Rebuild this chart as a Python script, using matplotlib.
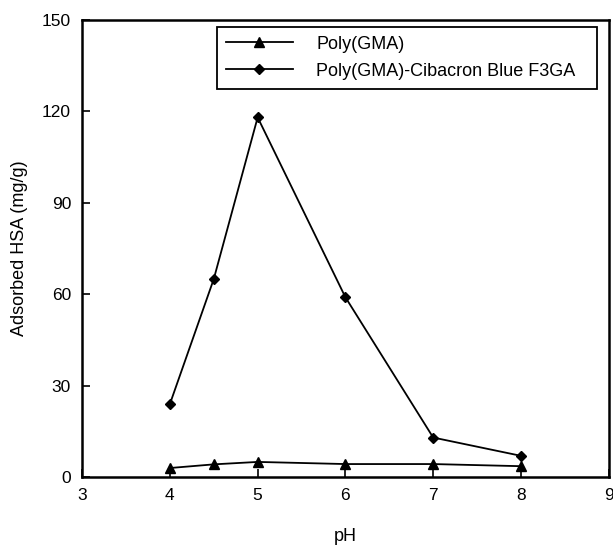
import matplotlib
matplotlib.use("Agg")
import matplotlib.pyplot as plt

plt.rcParams['font.family'] = ['Liberation Sans', 'DejaVu Sans']

ph = [4, 4.5, 5, 6, 7, 8]
poly_gma = [3.0, 4.2, 5.0, 4.3, 4.3, 3.6]
poly_gma_cb = [24, 65, 118, 59, 13, 7]

fig = plt.figure(figsize=(6.13, 5.51), dpi=100)
ax = fig.add_axes([0.134, 0.134, 0.859, 0.830])

ax.plot(ph, poly_gma, color='black', lw=1.3, marker='^', ms=7,
        label='Poly(GMA)')
ax.plot(ph, poly_gma_cb, color='black', lw=1.3, marker='D', ms=5.5,
        label='Poly(GMA)-Cibacron Blue F3GA')

ax.set_xlim(3, 9)
ax.set_ylim(0, 150)
ax.set_xticks([3, 4, 5, 6, 7, 8, 9])
ax.set_yticks([0, 30, 60, 90, 120, 150])
ax.tick_params(direction='in', labelsize=12.5, length=6, width=1.2, pad=8)
for s in ax.spines.values():
    s.set_linewidth(1.8)

ax.set_xlabel('pH', fontsize=13, labelpad=18)
ax.set_ylabel('Adsorbed HSA (mg/g)', fontsize=13, labelpad=10)

leg = ax.legend(loc='upper left', bbox_to_anchor=(0.256, 0.842, 0.721, 0.143),
                mode='expand', fontsize=13, handlelength=3.7, handletextpad=1.3,
                fancybox=False, framealpha=1, edgecolor='black',
                borderaxespad=0, labelspacing=0.55, borderpad=0.5)
leg.get_frame().set_linewidth(1.3)

fig.savefig('out.png', dpi=100)
